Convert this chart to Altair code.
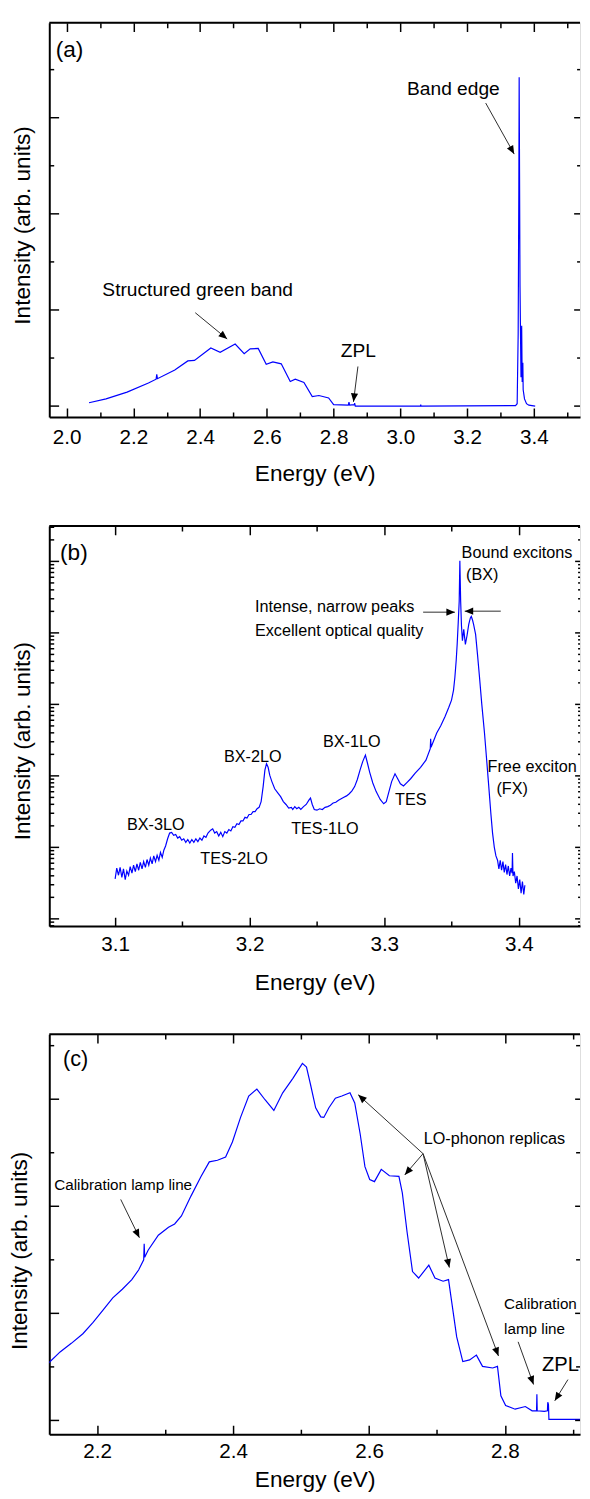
import math
import altair as alt
import pandas as pd

FONT = "Liberation Sans"
BLUE = "#0000ff"
INK = "#000000"
ARROW = "#2b2b2b"
PLOT_W = 540
HEAD = "M0,0L-1,-0.42L-1,0.42Z"

# ---------------- panel (a): full PL spectrum (linear) ----------------
a_energy = [2.067, 2.118, 2.181, 2.245, 2.268, 2.270, 2.272, 2.324, 2.363, 2.383,
            2.432, 2.460, 2.505, 2.532, 2.550, 2.574, 2.598, 2.618, 2.643, 2.670,
            2.685, 2.711, 2.736, 2.756, 2.785, 2.800, 2.844, 2.846, 2.848, 2.862,
            2.863, 2.865, 3.060, 3.061, 3.062, 3.345, 3.350, 3.353, 3.355, 3.356,
            3.3575, 3.3585, 3.360, 3.3615, 3.3635, 3.365, 3.367, 3.368, 3.372, 3.378,
            3.385, 3.404]
a_intensity = [0.07, 0.15, 0.29, 0.48, 0.56, 0.66, 0.57, 0.75, 0.94, 0.95,
               1.21, 1.12, 1.29, 1.09, 1.19, 1.20, 0.87, 0.92, 0.88, 0.51,
               0.56, 0.49, 0.20, 0.22, 0.17, 0.03, 0.02, 0.08, 0.02, 0.03,
               0.06, 0.00, 0.00, 0.03, 0.00, 0.01, 0.05, 1.50, 4.50, 6.84,
               4.20, 2.52, 1.50, 0.60, 1.67, 0.50, 0.90, 0.34, 0.15, 0.05,
               0.02, 0.00]
a_xdomain = [1.9479, 3.5384]
a_ydomain = [-0.225, 7.975]
a_height = 401
a_xlabels = [2.0, 2.2, 2.4, 2.6, 2.8, 3.0, 3.2, 3.4]
a_xminor = [2.1, 2.3, 2.5, 2.7, 2.9, 3.1, 3.3, 3.5]
a_ymajor = [0, 2, 4, 6]
a_yminor = [1, 3, 5, 7]
a_text = ["(a)", "Band edge", "Structured green band", "ZPL"]
a_text_x = [1.967, 3.020, 2.107, 2.8212]
a_text_y = [7.256, 6.477, 2.284, 1.022]
a_text_size = [23, 19.5, 19.5, 19.5]
a_arrow_x0 = [3.2557, 2.3853, 2.8728]
a_arrow_y0 = [6.305, 1.943, 0.824]
a_arrow_x1 = [3.3411, 2.4810, 2.8595]
a_arrow_y1 = [5.243, 1.397, 0.088]

# ---------------- panel (b): band-edge region (log scale, values in decades) ----------------
b_energy = [3.1000, 3.1012, 3.1025, 3.1037, 3.1050, 3.1062, 3.1075, 3.1087, 3.1100, 3.1112,
            3.1125, 3.1137, 3.1150, 3.1162, 3.1175, 3.1187, 3.1200, 3.1212, 3.1225, 3.1237,
            3.1250, 3.1262, 3.1275, 3.1287, 3.1300, 3.1312, 3.1325, 3.1337, 3.1350, 3.1362,
            3.1375, 3.1390, 3.1405, 3.1420, 3.1435, 3.1450, 3.1465, 3.1480, 3.1495, 3.1510,
            3.1525, 3.1540, 3.1555, 3.1570, 3.1585, 3.1600, 3.1615, 3.1630, 3.1645, 3.1660,
            3.1675, 3.1690, 3.1710, 3.1725, 3.1740, 3.1755, 3.1770, 3.1785, 3.1800, 3.1815,
            3.1830, 3.1845, 3.1860, 3.1875, 3.1890, 3.1905, 3.1920, 3.1935, 3.1950, 3.1965,
            3.1980, 3.1995, 3.2010, 3.2025, 3.2040, 3.2055, 3.2070, 3.2085, 3.2100, 3.2113,
            3.2125, 3.2137, 3.2149, 3.2165, 3.2186, 3.2210, 3.2230, 3.2250, 3.2270, 3.2290,
            3.2310, 3.2320, 3.2335, 3.2350, 3.2365, 3.2380, 3.2400, 3.2420, 3.2440, 3.2452,
            3.2465, 3.2480, 3.2500, 3.2520, 3.2540, 3.2560, 3.2580, 3.2600, 3.2620, 3.2640,
            3.2660, 3.2680, 3.2700, 3.2720, 3.2740, 3.2760, 3.2780, 3.2800, 3.2820, 3.2840,
            3.2860, 3.2875, 3.2892, 3.2915, 3.2940, 3.2970, 3.2996, 3.3015, 3.3035, 3.3055,
            3.3080, 3.3100, 3.3120, 3.3143, 3.3170, 3.3196, 3.3230, 3.3270, 3.3310, 3.3342,
            3.3345, 3.3348, 3.3390, 3.3420, 3.3452, 3.3480, 3.3500, 3.3515, 3.3525, 3.3535,
            3.3542, 3.3550, 3.3557, 3.3562, 3.3568, 3.3574, 3.3581, 3.3591, 3.3603, 3.3615,
            3.3628, 3.3640, 3.3647, 3.3656, 3.3664, 3.3679, 3.3693, 3.3708, 3.3725, 3.3745,
            3.3760, 3.3774, 3.3793, 3.3805, 3.3818, 3.3830, 3.3842, 3.3852, 3.3862, 3.3872,
            3.3882, 3.3892, 3.3902, 3.3912, 3.3922, 3.3932, 3.3942, 3.3950, 3.3953, 3.3957,
            3.3967, 3.3977, 3.3987, 3.3997, 3.4007, 3.4017, 3.4027, 3.4037, 3.4045]
b_log_intensity = [0.56, 0.71, 0.61, 0.72, 0.58, 0.70, 0.55, 0.67, 0.61, 0.73,
                   0.64, 0.75, 0.66, 0.77, 0.68, 0.79, 0.70, 0.80, 0.72, 0.83,
                   0.75, 0.85, 0.77, 0.88, 0.80, 0.89, 0.82, 0.93, 0.86, 0.96,
                   1.02, 1.12, 1.20, 1.21, 1.17, 1.18, 1.13, 1.15, 1.10, 1.12,
                   1.07, 1.11, 1.06, 1.11, 1.07, 1.12, 1.08, 1.13, 1.10, 1.16,
                   1.14, 1.20, 1.24, 1.26, 1.20, 1.22, 1.16, 1.21, 1.15, 1.22,
                   1.20, 1.25, 1.23, 1.29, 1.28, 1.33, 1.32, 1.37, 1.37, 1.42,
                   1.41, 1.46, 1.46, 1.50, 1.50, 1.54, 1.56, 1.64, 1.85, 2.08,
                   2.17, 2.12, 2.01, 1.92, 1.82, 1.76, 1.71, 1.64, 1.60, 1.55,
                   1.56, 1.53, 1.57, 1.54, 1.56, 1.53, 1.57, 1.60, 1.66, 1.69,
                   1.60, 1.53, 1.52, 1.54, 1.53, 1.56, 1.57, 1.59, 1.62, 1.63,
                   1.66, 1.68, 1.70, 1.72, 1.75, 1.79, 1.85, 1.95, 2.08, 2.20,
                   2.29, 2.18, 2.05, 1.90, 1.78, 1.67, 1.61, 1.64, 1.78, 1.92,
                   2.03, 1.96, 1.89, 1.86, 1.91, 1.96, 2.04, 2.12, 2.22, 2.38,
                   2.52, 2.40, 2.60, 2.70, 2.83, 2.96, 3.06, 3.20, 3.38, 3.62,
                   3.84, 4.15, 4.44, 5.01, 4.44, 4.10, 3.89, 4.05, 3.84, 3.96,
                   4.12, 4.21, 4.23, 4.18, 4.12, 3.98, 3.70, 3.38, 3.00, 2.60,
                   2.25, 1.92, 1.46, 1.20, 1.00, 0.88, 0.82, 0.70, 0.82, 0.68,
                   0.80, 0.65, 0.76, 0.62, 0.74, 0.60, 0.71, 0.64, 0.92, 0.60,
                   0.66, 0.50, 0.60, 0.42, 0.55, 0.36, 0.52, 0.34, 0.47]
b_xdomain = [3.05106, 3.44551]
b_ydomain_log = [-0.1005, 5.495]
b_height = 407
b_xlabels = [3.1, 3.2, 3.3, 3.4]
b_xminor = [3.15, 3.25, 3.35]
b_ymajor = [1, 10, 100, 1000, 10000, 100000]
b_yminor = [0.8, 0.9,
            2, 3, 4, 5, 6, 7, 8, 9,
            20, 30, 40, 50, 60, 70, 80, 90,
            200, 300, 400, 500, 600, 700, 800, 900,
            2000, 3000, 4000, 5000, 6000, 7000, 8000, 9000,
            20000, 30000, 40000, 50000, 60000, 70000, 80000, 90000,
            200000, 300000]
b_text = ["(b)", "Bound excitons", "(BX)", "Intense, narrow peaks", "Excellent optical quality",
          "BX-3LO", "TES-2LO", "BX-2LO", "TES-1LO", "BX-1LO", "TES", "Free exciton", "(FX)"]
b_text_x = [3.0591, 3.3575, 3.3608, 3.2039, 3.2039, 3.1088, 3.1633, 3.1809, 3.2308,
            3.2544, 3.3080, 3.3768, 3.3834]
b_text_logy = [5.019, 5.047, 4.740, 4.287, 3.957, 1.239, 0.771, 2.192, 1.184,
               2.399, 1.596, 2.055, 1.744]
b_text_size = [23, 16.5, 16.5, 16.5, 16.5, 16.5, 16.5, 16.5, 16.5, 16.5, 16.5, 16.5, 16.5]
b_arrow_x0 = [3.3289, 3.3866]
b_arrow_logy0 = [4.290, 4.304]
b_arrow_x1 = [3.3525, 3.3598]
b_arrow_logy1 = [4.290, 4.304]

# ---------------- panel (c): structured green band (linear) ----------------
c_energy = [2.125, 2.1455, 2.162, 2.179, 2.194, 2.208, 2.223, 2.237, 2.251, 2.261,
            2.2685, 2.2692, 2.2700, 2.275, 2.290, 2.305, 2.314, 2.324, 2.338, 2.353,
            2.365, 2.377, 2.389, 2.399, 2.411, 2.423, 2.435, 2.447, 2.460, 2.473,
            2.488, 2.502, 2.508, 2.514, 2.5215, 2.529, 2.5335, 2.541, 2.5505, 2.560,
            2.572, 2.579, 2.587, 2.594, 2.601, 2.608, 2.618, 2.630, 2.644, 2.649,
            2.656, 2.664, 2.673, 2.688, 2.697, 2.709, 2.717, 2.7215, 2.729, 2.738,
            2.748, 2.758, 2.767, 2.782, 2.789, 2.794, 2.801, 2.815, 2.830, 2.840,
            2.8465, 2.8470, 2.8475, 2.858, 2.8625, 2.8630, 2.8640, 2.8647, 2.915]
c_intensity = [1.03, 1.28, 1.44, 1.62, 1.83, 2.05, 2.29, 2.45, 2.63, 2.81,
               3.00, 3.30, 3.05, 3.18, 3.46, 3.61, 3.67, 3.82, 4.19, 4.56,
               4.83, 4.86, 4.92, 5.20, 5.66, 6.06, 6.19, 5.99, 5.79, 6.12,
               6.39, 6.67, 6.60, 6.27, 5.84, 5.67, 5.66, 5.84, 6.02, 6.06,
               6.12, 5.93, 5.35, 4.74, 4.50, 4.46, 4.69, 4.57, 4.56, 4.25,
               3.52, 2.78, 2.66, 2.90, 2.66, 2.60, 2.63, 2.23, 1.56, 1.10,
               1.13, 1.22, 1.01, 0.98, 1.01, 0.46, 0.28, 0.21, 0.26, 0.18,
               0.18, 0.49, 0.18, 0.17, 0.18, 0.34, 0.30, 0.02, 0.02]
c_xdomain = [2.12957, 2.91048]
c_ydomain = [-0.257, 7.215]
c_height = 407
c_xlabels = [2.2, 2.4, 2.6, 2.8]
c_xminor = [2.3, 2.5, 2.7, 2.9]
c_ymajor = [0, 2, 4, 6]
c_yminor = [1, 3, 5, 7]
c_text = ["(c)", "Calibration lamp line", "LO-phonon replicas", "Calibration", "lamp line", "ZPL"]
c_text_x = [2.1498, 2.1368, 2.6805, 2.7987, 2.7987, 2.8545]
c_text_y = [6.612, 4.298, 5.160, 2.079, 1.614, 0.917]
c_text_size = [22, 15.5, 16.5, 15.5, 15.5, 20.5]
c_arrow_x0 = [2.2347, 2.6795, 2.6795, 2.6795, 2.6795, 2.8194, 2.8927]
c_arrow_y0 = [4.128, 4.983, 4.983, 4.983, 4.983, 1.468, 0.763]
c_arrow_x1 = [2.2622, 2.5841, 2.6526, 2.7182, 2.7905, 2.8421, 2.8733]
c_arrow_y1 = [3.412, 6.083, 4.586, 2.855, 1.203, 0.671, 0.367]


def head_angles(x0, y0, x1, y1, xdom, ydom, height, log):
    kx = PLOT_W / (xdom[1] - xdom[0])
    if log:
        ky = height / (math.log10(ydom[1]) - math.log10(ydom[0]))
        f = math.log10
    else:
        ky = height / (ydom[1] - ydom[0])
        f = lambda v: v
    out = []
    for a, b, c, d in zip(x0, y0, x1, y1):
        dx = (c - a) * kx
        dy = -(f(d) - f(b)) * ky
        out.append(math.degrees(math.atan2(dy, dx)) % 360)
    return out


def panel(line_df, xdom, ydom, height, log, xlabels, xminor, minor_factor, ymajor, yminor,
          text_df, arrow_df, label_pad, title_pad, ytitle_x, ytitle_y,
          tick_major=9, tick_minor=5, right_major=6, right_minor=3):
    xs = alt.Scale(domain=xdom, nice=False, zero=False)
    if log:
        ys = alt.Scale(type="log", domain=ydom, nice=False)
    else:
        ys = alt.Scale(domain=ydom, nice=False, zero=False)

    # the x-axis grid is dashed so that only a short piece shows at the bottom and
    # at the top of the frame: these are the inward ticks of the reference
    is_minor = f"round(datum.value * {minor_factor}) % 2 === 1"
    tick_values = sorted(xlabels + xminor)
    x_axis = alt.Axis(values=tick_values, format=".1f",
                      labelExpr=f"({is_minor}) ? '' : datum.label",
                      title="Energy (eV)",
                      labelPadding=label_pad, titlePadding=title_pad, ticks=False, tickSize=0,
                      grid=True, gridColor=INK, gridOpacity=1, gridWidth=1.5,
                      gridDash={"condition": {"test": is_minor,
                                              "value": [tick_minor, height - 2 * tick_minor]},
                                "value": [tick_major, height - 2 * tick_major]},
                      domainColor=INK, domainWidth=2, labelFontSize=21,
                      titleFontSize=23, labelColor=INK, titleColor=INK,
                      titleFontWeight="normal", labelFont=FONT, titleFont=FONT,
                      labelOverlap=False, labelFlush=False)
    y_axis = alt.Axis(labels=False, ticks=False, tickSize=0, grid=False, domainColor=INK,
                      domainWidth=2, title="Intensity (arb. units)", titleFontSize=23,
                      titleFont=FONT, titleFontWeight="normal", titleColor=INK,
                      titleX=ytitle_x, titleY=ytitle_y, titleAngle=270,
                      titleBaseline="bottom", titleAlign="center")

    def X(field):
        return alt.X(field, type="quantitative", scale=xs, axis=x_axis)

    def Y(field):
        return alt.Y(field, type="quantitative", scale=ys, axis=y_axis)

    line = alt.Chart(line_df).mark_line(color=BLUE, strokeWidth=1.2, clip=True).encode(
        x=X("E"), y=Y("I"))

    stub = pd.DataFrame({"k": [0]})

    def yticks(vals, x0, x1):
        return alt.Chart(pd.DataFrame({"I": vals})).mark_rule(color=INK, strokeWidth=1.5).encode(
            y=Y("I"), x=alt.value(x0), x2=alt.value(x1))

    layers = [line,
              yticks(ymajor, 0, tick_major + 1),
              yticks(yminor, 0, tick_minor),
              yticks(ymajor, PLOT_W - right_major, PLOT_W)]
    if right_minor > 0:
        layers.append(yticks(yminor, PLOT_W - right_minor, PLOT_W))

    top_frame = alt.Chart(stub).mark_rule(color=INK, strokeWidth=2).encode(
        x=alt.value(0), x2=alt.value(PLOT_W), y=alt.value(0))
    layers.append(top_frame)

    arrows = alt.Chart(arrow_df).mark_rule(color=ARROW, strokeWidth=1).encode(
        x=X("x0"), y=Y("y0"), x2="x1:Q", y2="y1:Q")
    heads = alt.Chart(arrow_df).mark_point(shape=HEAD, filled=True, color=INK, size=300,
                                           opacity=1, strokeWidth=0).encode(
        x=X("x1"), y=Y("y1"), angle=alt.Angle("ang:Q", scale=None))
    texts = alt.Chart(text_df).mark_text(align="left", baseline="alphabetic", font=FONT,
                                         color=INK, clip=True).encode(
        x=X("x"), y=Y("y"), text="t:N", size=alt.Size("s:Q", scale=None))
    layers += [arrows, heads, texts]
    return alt.layer(*layers).properties(width=PLOT_W, height=height)


# ---- panel (a)
a_line = pd.DataFrame({"E": a_energy, "I": a_intensity})
a_txt = pd.DataFrame({"x": a_text_x, "y": a_text_y, "t": a_text, "s": a_text_size})
a_arr = pd.DataFrame({"x0": a_arrow_x0, "y0": a_arrow_y0, "x1": a_arrow_x1, "y1": a_arrow_y1})
a_arr["ang"] = head_angles(a_arrow_x0, a_arrow_y0, a_arrow_x1, a_arrow_y1,
                           a_xdomain, a_ydomain, a_height, False)
pa = panel(a_line, a_xdomain, a_ydomain, a_height, False, a_xlabels, a_xminor, 10,
           a_ymajor, a_yminor, a_txt, a_arr, label_pad=10, title_pad=16,
           ytitle_x=-15, ytitle_y=205.7)

# ---- panel (b)
b_ydomain = [10 ** b_ydomain_log[0], 10 ** b_ydomain_log[1]]
b_line = pd.DataFrame({"E": b_energy, "I": [10 ** v for v in b_log_intensity]})
b_txt = pd.DataFrame({"x": b_text_x, "y": [10 ** v for v in b_text_logy], "t": b_text,
                      "s": b_text_size})
b_arr = pd.DataFrame({"x0": b_arrow_x0, "y0": [10 ** v for v in b_arrow_logy0],
                      "x1": b_arrow_x1, "y1": [10 ** v for v in b_arrow_logy1]})
b_arr["ang"] = head_angles(b_arr["x0"], b_arr["y0"], b_arr["x1"], b_arr["y1"],
                           b_xdomain, b_ydomain, b_height, True)
pb = panel(b_line, b_xdomain, b_ydomain, b_height, True, b_xlabels, b_xminor, 20,
           b_ymajor, b_yminor, b_txt, b_arr, label_pad=8, title_pad=17.5,
           ytitle_x=-15, ytitle_y=218.3, right_major=5, right_minor=2)

# ---- panel (c)
c_line = pd.DataFrame({"E": c_energy, "I": c_intensity})
c_txt = pd.DataFrame({"x": c_text_x, "y": c_text_y, "t": c_text, "s": c_text_size})
c_arr = pd.DataFrame({"x0": c_arrow_x0, "y0": c_arrow_y0, "x1": c_arrow_x1, "y1": c_arrow_y1})
c_arr["ang"] = head_angles(c_arrow_x0, c_arrow_y0, c_arrow_x1, c_arrow_y1,
                           c_xdomain, c_ydomain, c_height, False)
pc = panel(c_line, c_xdomain, c_ydomain, c_height, False, c_xlabels, c_xminor, 10,
           c_ymajor, c_yminor, c_txt, c_arr, label_pad=7, title_pad=7,
           ytitle_x=-18, ytitle_y=220, right_major=5, right_minor=4)

chart = alt.vconcat(pa, pb, pc, spacing=38).properties(
    padding={"left": 0, "top": 0, "right": 0, "bottom": 0}
).configure_view(stroke="transparent").configure(font=FONT, background="white")

chart.save("out.html", embed_options={"renderer": "svg", "actions": False})
